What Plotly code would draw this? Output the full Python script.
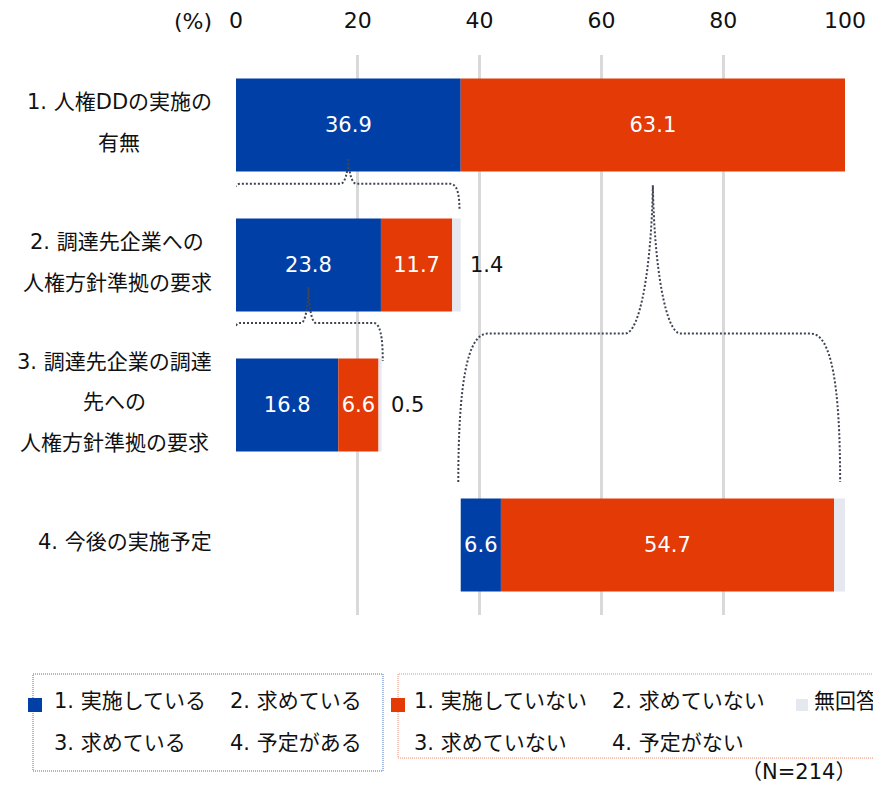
import plotly.graph_objects as go

# ---------------- data ----------------
categories = ["1. 人権DDの実施の\n有無",
              "2. 調達先企業への\n人権方針準拠の要求",
              "3. 調達先企業の調達\n先への\n人権方針準拠の要求",
              "4. 今後の実施予定"]
yes_vals = [36.9, 23.8, 16.8, 6.6]
no_vals = [63.1, 11.7, 6.6, 54.7]
na_vals = [None, 1.4, 0.5, 1.9]
tick_vals = [0, 20, 40, 60, 80, 100]
legend_yes = ["1. 実施している", "2. 求めている", "3. 求めている", "4. 予定がある"]
legend_no = ["1. 実施していない", "2. 求めていない", "3. 求めていない", "4. 予定がない"]
legend_na = "無回答"
n_label = "（N=214）"
unit_label = "(%)"

# row 4 starts where row 1 "yes" ends (subset of non-implementers)
offsets = [0, 0, 0, yes_vals[0]]

BLUE = "#0040A6"
RED = "#E33A06"
GRAY = "#E5E8EE"
BRACE = "#3E4452"
FONT = "DejaVu Sans, Noto Sans CJK JP"
FS = 21

WIN_W, WIN_H = 881, 786
OFF = 8  # default page body margin
W, H = WIN_W - OFF, WIN_H - OFF
# plot area in window pixel coordinates
L, R, T, B = 236, 845, 55, 615


def px_x(px):
    return (px - L) / (R - L)


def px_y(py):
    return (B - py) / (B - T)


rows = list(range(len(categories)))
bar_w = 0.665

na_num = [v if v is not None else 0 for v in na_vals]
base_yes = offsets
base_no = [o + y for o, y in zip(offsets, yes_vals)]
base_na = [b + n for b, n in zip(base_no, no_vals)]

fig = go.Figure()
fig.add_trace(go.Bar(
    y=rows, x=yes_vals, base=base_yes, orientation="h", width=bar_w,
    marker=dict(color=BLUE, line=dict(width=0)),
    text=[f"{v:.1f}" for v in yes_vals], textposition="inside",
    insidetextanchor="middle", textfont=dict(color="white", size=FS, family=FONT),
    hoverinfo="skip", showlegend=False))
fig.add_trace(go.Bar(
    y=rows, x=no_vals, base=base_no, orientation="h", width=bar_w,
    marker=dict(color=RED, line=dict(width=0)),
    text=[f"{v:.1f}" for v in no_vals], textposition="inside",
    insidetextanchor="middle", textfont=dict(color="white", size=FS, family=FONT),
    hoverinfo="skip", showlegend=False))
fig.add_trace(go.Bar(
    y=rows, x=na_num, base=base_na, orientation="h", width=bar_w,
    marker=dict(color=GRAY, line=dict(width=0)),
    textposition="none", hoverinfo="skip", showlegend=False))

annotations = []
# outside labels for "no answer"
for i, v in enumerate(na_vals):
    if v is None:
        continue
    annotations.append(dict(x=base_na[i] + v, y=i, xref="x", yref="y",
                            text=f"{v:.1f}", showarrow=False, xanchor="left",
                            yanchor="middle", xshift=7,
                            font=dict(size=FS, color="#111111", family=FONT)))


# category labels (one annotation per line, centred block, right edge at 212px)
def text_w(s):
    m = {".": 0.318, " ": 0.318, "D": 0.77}
    w = 0
    for c in s:
        if ord(c) > 0x2E80:
            w += 1.0
        elif c.isdigit():
            w += 0.636
        else:
            w += m.get(c, 0.6)
    return w * FS


for i, cat in enumerate(categories):
    lines = cat.split("\n")
    blockw = max(text_w(s) for s in lines)
    cx = 212 - blockw / 2
    n = len(lines)
    for k, s in enumerate(lines):
        annotations.append(dict(x=px_x(cx), y=i + (k - (n - 1) / 2) * 0.29 - 0.02,
                                xref="paper", yref="y", text=s, showarrow=False,
                                xanchor="center", yanchor="middle",
                                font=dict(size=FS, color="#111111", family=FONT)))

annotations.append(dict(x=px_x(214), y=px_y(22), xref="paper", yref="paper",
                        text=unit_label, showarrow=False, xanchor="right",
                        yanchor="middle", font=dict(size=FS + 1, color="#111111", family=FONT)))

# ---------------- braces ----------------
def brace(x0, x1, xm, y_tip, y_h, y_end, ew, pw):
    de = y_end - y_h
    dt = y_h - y_tip
    p = f"M {x0},{y_end} C {x0},{y_h + 0.35 * de} {x0 + 0.3 * ew},{y_h} {x0 + ew},{y_h}"
    p += f" L {xm - pw},{y_h} C {xm - 0.45 * pw},{y_h} {xm - 0.05 * pw},{y_h - 0.45 * dt} {xm},{y_tip}"
    p += f" C {xm + 0.05 * pw},{y_h - 0.45 * dt} {xm + 0.45 * pw},{y_h} {xm + pw},{y_h}"
    p += f" L {x1 - ew},{y_h} C {x1 - 0.3 * ew},{y_h} {x1},{y_h + 0.35 * de} {x1},{y_end}"
    return p


totals = [b + n for b, n in zip(base_na, na_num)]
shapes = []
brace_specs = [
    # (x0, x1, xm, y_tip, y_h, y_end, ew, pw)
    (offsets[1] - 0.8, totals[1] - 0.2, base_yes[0] + yes_vals[0] / 2, 0.236, 0.42, 0.61, 1.5, 1.3),
    (offsets[2] - 0.8, totals[2] + 0.2, base_yes[1] + yes_vals[1] / 2, 1.157, 1.414, 1.686, 1.5, 1.2),
    (offsets[3] - 0.4, totals[3] - 0.9, base_no[0] + no_vals[0] / 2, 0.43, 1.49, 2.55, 4.8, 4.6),
]
for spec in brace_specs:
    shapes.append(dict(type="path", xref="x", yref="y", path=brace(*spec),
                       line=dict(color=BRACE, width=2, dash="2px,2px"), layer="above"))

# ---------------- custom legend ----------------
shapes.append(dict(type="rect", xref="paper", yref="paper",
                   x0=px_x(33), x1=px_x(383), y0=px_y(771), y1=px_y(674),
                   line=dict(color="#4472C4", width=1, dash="1px,1px"), layer="below"))
shapes.append(dict(type="rect", xref="paper", yref="paper",
                   x0=px_x(398), x1=px_x(895), y0=px_y(758), y1=px_y(674),
                   line=dict(color="#F08A70", width=1, dash="1px,1px"), layer="below"))


def square(xpx, ypx, color, size=14):
    return dict(type="rect", xref="paper", yref="paper",
                x0=px_x(xpx), x1=px_x(xpx + size),
                y0=px_y(ypx + size / 2), y1=px_y(ypx - size / 2),
                fillcolor=color, line=dict(width=0))


row_y = [701, 743]
shapes.append(square(28, 705, BLUE))
shapes.append(square(391, 705, RED))
shapes.append(square(796, 705, GRAY, 12))

col_yes = [52, 228]
col_no = [412, 610]
for j, s in enumerate(legend_yes):
    annotations.append(dict(x=px_x(col_yes[j % 2]), y=px_y(row_y[j // 2]), xref="paper",
                            yref="paper", text=s, showarrow=False, xanchor="left",
                            yanchor="middle", font=dict(size=FS, color="#111111", family=FONT)))
for j, s in enumerate(legend_no):
    annotations.append(dict(x=px_x(col_no[j % 2]), y=px_y(row_y[j // 2]), xref="paper",
                            yref="paper", text=s, showarrow=False, xanchor="left",
                            yanchor="middle", font=dict(size=FS, color="#111111", family=FONT)))
annotations.append(dict(x=px_x(812), y=px_y(row_y[0]), xref="paper", yref="paper",
                        text=legend_na, showarrow=False, xanchor="left", yanchor="middle",
                        font=dict(size=FS, color="#111111", family=FONT)))
annotations.append(dict(x=px_x(858), y=px_y(772), xref="paper", yref="paper",
                        text=n_label, showarrow=False, xanchor="right", yanchor="middle",
                        font=dict(size=FS, color="#111111", family=FONT)))

fig.update_layout(
    width=W, height=H, autosize=False,
    margin=dict(l=L - OFF, r=W + OFF - R, t=T - OFF, b=H + OFF - B, pad=0, autoexpand=False),
    barmode="overlay",
    plot_bgcolor="white", paper_bgcolor="white",
    uniformtext=dict(minsize=FS, mode="show"),
    xaxis=dict(range=[0, 100], side="top", tickvals=tick_vals,
               ticktext=[str(v) for v in tick_vals], automargin=False,
               showgrid=True, gridcolor="#D9D9D9", gridwidth=2.5,
               zeroline=False, showline=False, ticks="outside", ticklen=17,
               tickcolor="rgba(0,0,0,0)",
               tickfont=dict(size=FS + 1, color="#111111", family=FONT), fixedrange=True),
    yaxis=dict(range=[3.5, -0.5], showticklabels=False, showgrid=False, automargin=False,
               zeroline=False, showline=False, fixedrange=True),
    annotations=annotations,
    shapes=shapes,
    hovermode=False,
)

fig.write_html("out.html")
